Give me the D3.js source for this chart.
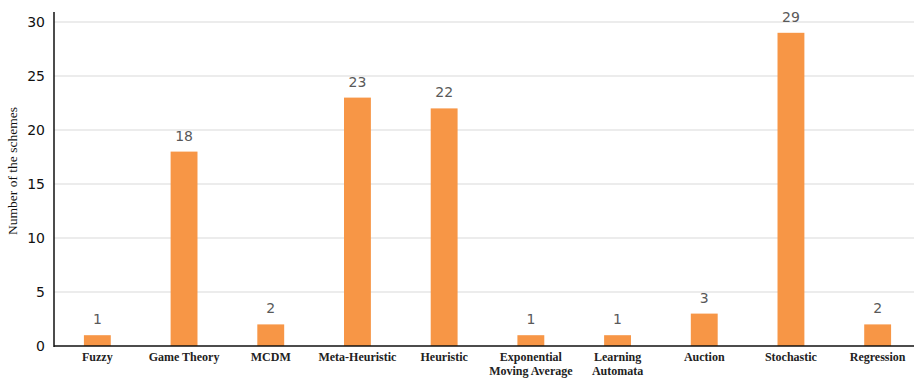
<!DOCTYPE html>
<html>
<head>
<meta charset="utf-8">
<script src="https://cdn.jsdelivr.net/npm/d3@7/dist/d3.min.js"></script>
<style>
  html, body { margin: 0; padding: 0; background: #fff; }
  svg { display: block; }
</style>
</head>
<body>
<svg id="chart" width="915" height="378"></svg>
<script>
// Scheme counts per technique
const categories = [
  ["Fuzzy"],
  ["Game Theory"],
  ["MCDM"],
  ["Meta-Heuristic"],
  ["Heuristic"],
  ["Exponential", "Moving Average"],
  ["Learning", "Automata"],
  ["Auction"],
  ["Stochastic"],
  ["Regression"]
];
const counts = [1, 18, 2, 23, 22, 1, 1, 3, 29, 2];
const yTicks = [0, 5, 10, 15, 20, 25, 30];
const yTitle = "Number of the schemes";

const svg = d3.select("#chart");
const plotLeft = 54, plotTop = 12, plotBottom = 346, plotRight = 921;

const x = d3.scaleBand()
  .domain(d3.range(categories.length))
  .range([plotLeft, plotRight])
  .paddingInner(0.69)
  .paddingOuter(0.345);

const y = d3.scaleLinear().domain([0, 30]).range([plotBottom, 22]);

// horizontal gridlines
svg.append("g")
  .selectAll("line")
  .data(yTicks.filter(t => t > 0))
  .join("line")
  .attr("x1", plotLeft).attr("x2", 914)
  .attr("y1", d => y(d)).attr("y2", d => y(d))
  .attr("stroke", "#d9d9d9").attr("stroke-width", 1);

// y tick labels
const yAxis = d3.axisLeft(y).tickValues(yTicks).tickSize(0).tickPadding(9);
const gy = svg.append("g").attr("transform", `translate(${plotLeft},0)`).call(yAxis);
gy.select(".domain").remove();
gy.selectAll("text")
  .attr("font-family", "DejaVu Sans, Verdana, sans-serif")
  .attr("font-size", 14)
  .attr("fill", "#111");

// bars
svg.append("g")
  .selectAll("rect")
  .data(counts)
  .join("rect")
  .attr("x", (d, i) => x(i))
  .attr("width", x.bandwidth())
  .attr("y", d => y(d))
  .attr("height", d => y(0) - y(d))
  .attr("fill", "#f79646");

// value labels
svg.append("g")
  .selectAll("text")
  .data(counts)
  .join("text")
  .attr("x", (d, i) => x(i) + x.bandwidth() / 2)
  .attr("y", d => y(d) - 11)
  .attr("text-anchor", "middle")
  .attr("font-family", "DejaVu Sans, Verdana, sans-serif")
  .attr("font-size", 14)
  .attr("fill", "#595959")
  .text(d => d);

// axis lines
svg.append("line")
  .attr("x1", plotLeft).attr("x2", plotLeft)
  .attr("y1", plotTop).attr("y2", plotBottom + 1)
  .attr("stroke", "#111").attr("stroke-width", 1.5);
svg.append("line")
  .attr("x1", plotLeft).attr("x2", 914)
  .attr("y1", plotBottom).attr("y2", plotBottom)
  .attr("stroke", "#111").attr("stroke-width", 1.5);

// category labels (one text per line)
const catGroup = svg.append("g")
  .attr("font-family", "Liberation Serif, Times New Roman, serif")
  .attr("font-size", 12)
  .attr("font-weight", "bold")
  .attr("fill", "#222")
  .attr("text-anchor", "middle");
categories.forEach((lines, i) => {
  lines.forEach((line, j) => {
    catGroup.append("text")
      .attr("x", x(i) + x.bandwidth() / 2)
      .attr("y", 361 + j * 13.5)
      .text(line);
  });
});

// y axis title
svg.append("text")
  .attr("transform", `translate(17,171) rotate(-90)`)
  .attr("text-anchor", "middle")
  .attr("font-family", "Liberation Serif, Times New Roman, serif")
  .attr("font-size", 13.5)
  .attr("fill", "#111")
  .text(yTitle);
</script>
</body>
</html>
